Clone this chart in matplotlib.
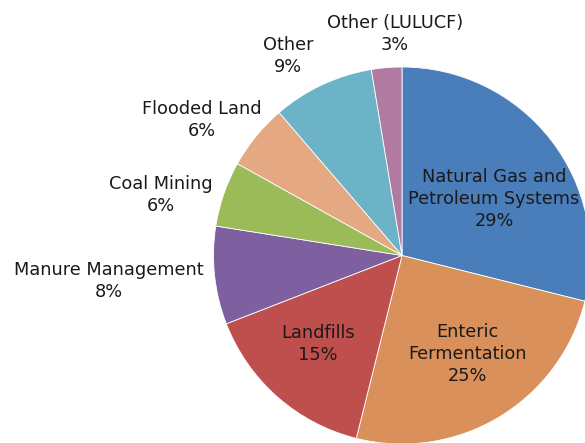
import matplotlib
matplotlib.use("Agg")
import matplotlib.pyplot as plt

categories = ["Natural Gas and\nPetroleum Systems", "Enteric\nFermentation", "Landfills",
              "Manure Management", "Coal Mining", "Flooded Land", "Other", "Other (LULUCF)"]
values = [28.9, 25.0, 15.2, 8.4, 5.6, 5.6, 8.7, 2.6]
pct_labels = ["29%", "25%", "15%", "8%", "6%", "6%", "9%", "3%"]
colors = ["#4A7EBB", "#D9905A", "#BE4F4C", "#7E5F9F", "#9BBB59", "#E4A982", "#6CB3C8", "#B17AA0"]
# label centre positions (pixels from top-left) for each slice's text
label_pos = [(494, 199), (467, 354), (318, 344), (109, 281), (161, 195), (202, 120), (288, 56), (395, 34)]

W, H = 585, 443
fig = plt.figure(figsize=(W / 100, H / 100), dpi=100)
ax = fig.add_axes([0, 0, 1, 1])

ax.pie(values, colors=colors, startangle=90, counterclock=False,
       center=(402, H - 255.5), radius=188.5, frame=True,
       wedgeprops=dict(edgecolor="white", linewidth=0.6))
ax.set_xlim(0, W)
ax.set_ylim(0, H)
ax.set_aspect("equal")
ax.axis("off")

for cat, p, (x, y) in zip(categories, pct_labels, label_pos):
    ax.text(x, H - y, f"{cat}\n{p}", ha="center", va="center", fontsize=12.8,
            color="#1a1a1a", linespacing=1.3, family="DejaVu Sans")

fig.savefig("out.png", dpi=100)
